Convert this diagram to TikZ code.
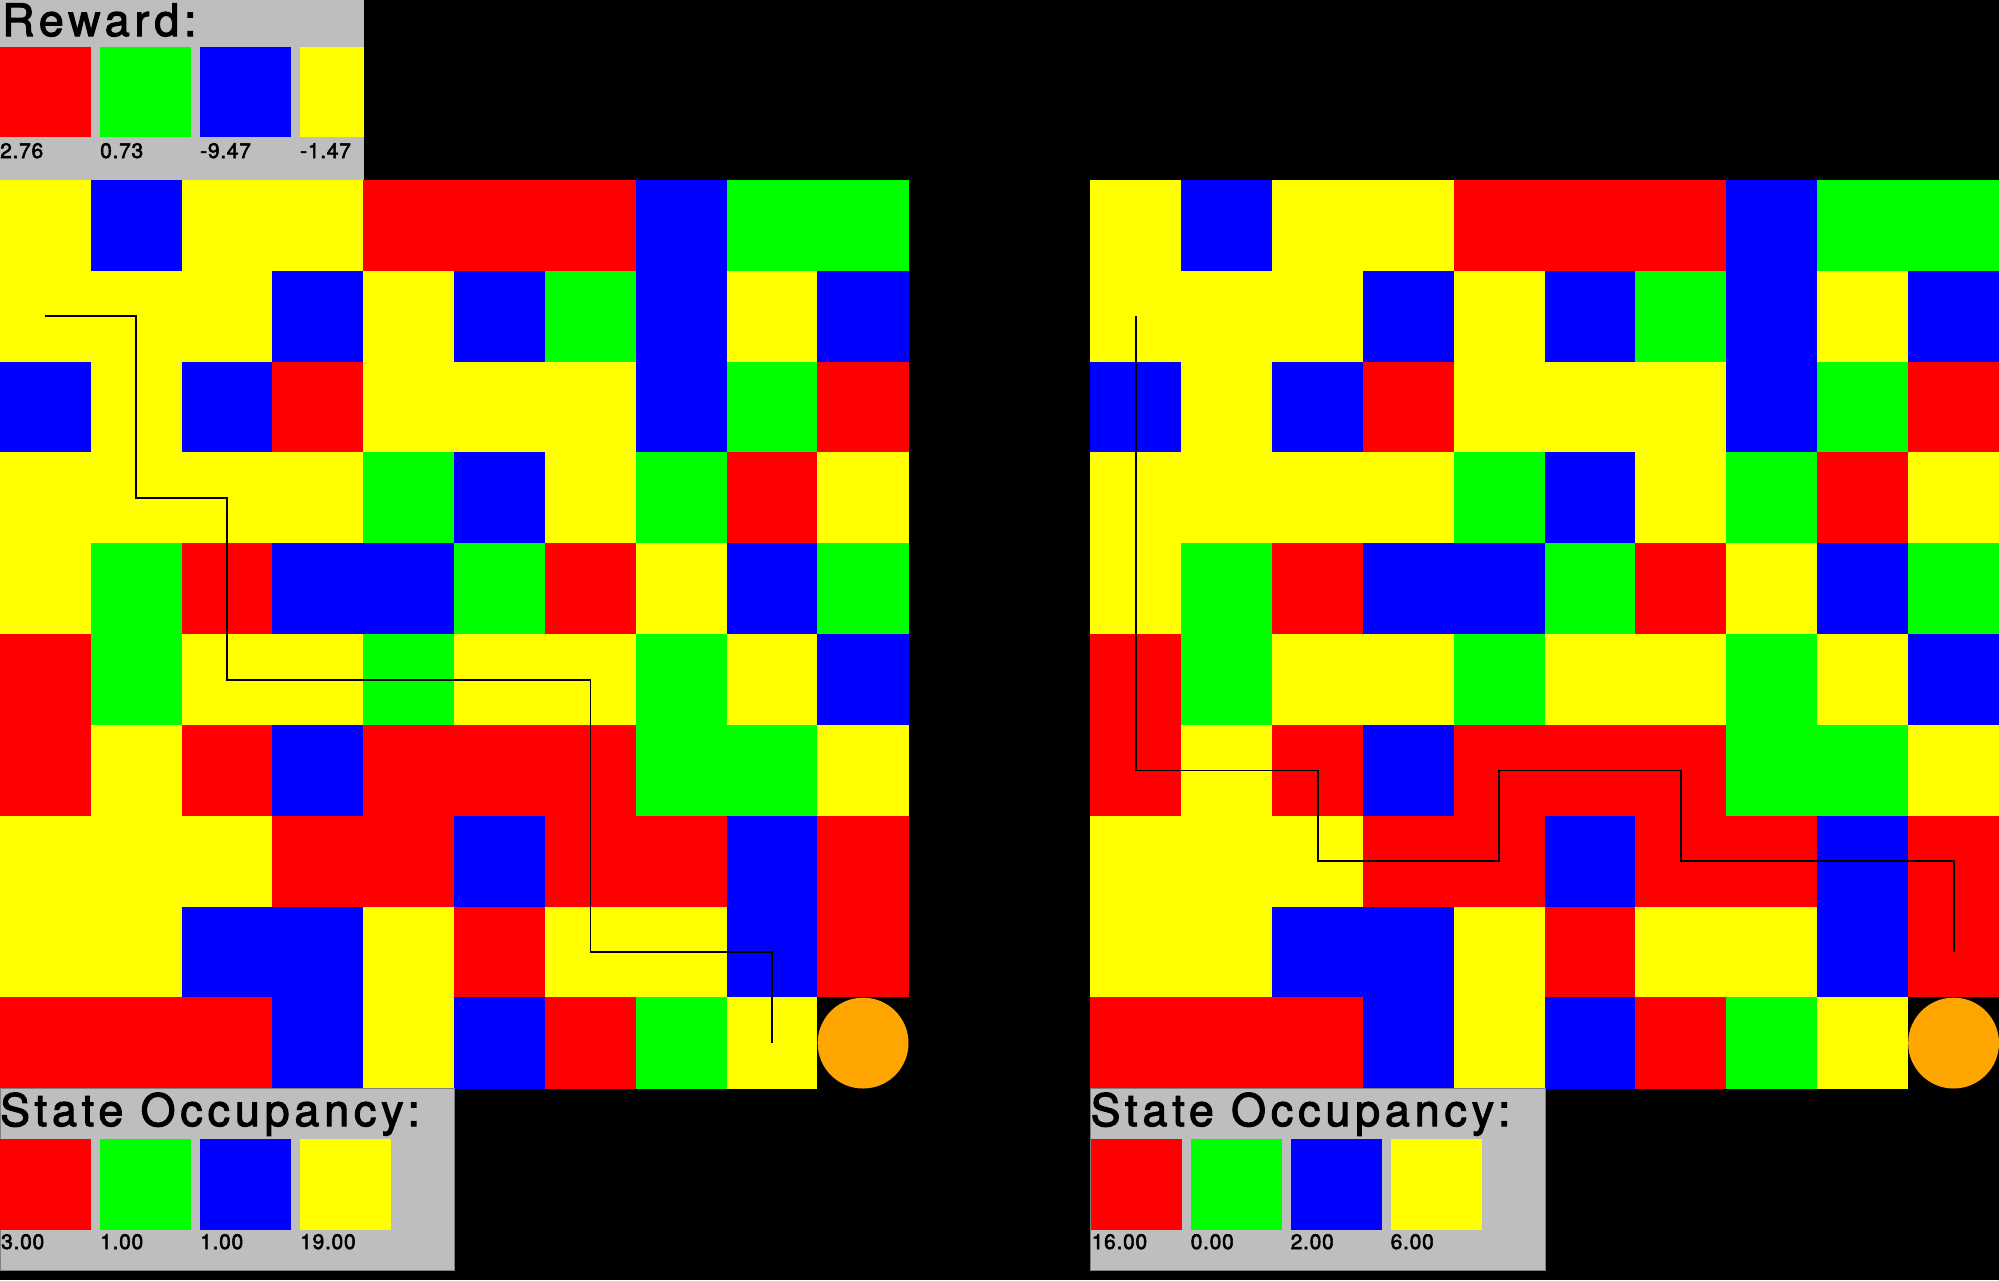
\documentclass[tikz,border=0pt]{standalone}
\usepackage{fontspec}
\setmainfont{TeX Gyre Heros}
\newfontfamily\headfont[LetterSpace=11,FakeBold=2.5]{TeX Gyre Heros}
\newfontfamily\labfont[LetterSpace=3.5,FakeBold=2.5]{TeX Gyre Heros}
\definecolor{cR}{RGB}{255,0,0}
\definecolor{cG}{RGB}{0,255,0}
\definecolor{cB}{RGB}{0,0,255}
\definecolor{cY}{RGB}{255,255,0}
\definecolor{cK}{RGB}{0,0,0}
\definecolor{panelgray}{RGB}{190,190,190}
\definecolor{paneledge}{RGB}{128,128,128}
\definecolor{goalorange}{RGB}{255,165,0}
\newcommand{\drawgridworld}{%
  \foreach \r/\row in {0/{Y,B,Y,Y,R,R,R,B,G,G},
                       1/{Y,Y,Y,B,Y,B,G,B,Y,B},
                       2/{B,Y,B,R,Y,Y,Y,B,G,R},
                       3/{Y,Y,Y,Y,G,B,Y,G,R,Y},
                       4/{Y,G,R,B,B,G,R,Y,B,G},
                       5/{R,G,Y,Y,G,Y,Y,G,Y,B},
                       6/{R,Y,R,B,R,R,R,G,G,Y},
                       7/{Y,Y,Y,R,R,B,R,R,B,R},
                       8/{Y,Y,B,B,Y,R,Y,Y,B,R},
                       9/{R,R,R,B,Y,B,R,G,Y,K}}{%
    \foreach \c [count=\i from 0] in \row {%
      \path[fill=c\c, draw=c\c, line width=0.4pt] (\i,\r) rectangle ++(1,1);
    }
  }%
  \fill[goalorange] (9.5,9.5) circle (0.5);
}
\tikzset{
  panel/.style={fill=panelgray, draw=paneledge, line width=1pt},
  headtxt/.style={anchor=base west, inner sep=0pt, font=\fontsize{44.7}{50}\headfont},
  valtxt/.style={anchor=base west, inner sep=0pt, font=\fontsize{21}{24}\labfont},
  traj/.style={draw=black, line width=1.8pt, line join=miter}
}
\begin{document}
\begin{tikzpicture}[x=1pt,y=-1pt]
\fill[black] (0,0) rectangle (1999,1280);
\useasboundingbox (0,0) rectangle (1999,1280);

% ---------- left grid ----------
\begin{scope}[shift={(0,180)}, x=90.85pt, y=-90.85pt]
  \drawgridworld
  \coordinate (L0) at (0.5,1.5);
  \coordinate (L1) at (1.5,1.5);
  \coordinate (L2) at (1.5,3.5);
  \coordinate (L3) at (2.5,3.5);
  \coordinate (L4) at (2.5,5.5);
  \coordinate (L5) at (6.5,5.5);
  \coordinate (L6) at (6.5,8.5);
  \coordinate (L7) at (8.5,8.5);
  \coordinate (L8) at (8.5,9.5);
  \draw[traj] (L0) -- (L1) -- (L2) -- (L3) -- (L4) -- (L5) -- (L6) -- (L7) -- (L8);
\end{scope}

% ---------- right grid ----------
\begin{scope}[shift={(1090.5,180)}, x=90.85pt, y=-90.85pt]
  \drawgridworld
  \coordinate (R0) at (0.5,1.5);
  \coordinate (R1) at (0.5,6.5);
  \coordinate (R2) at (2.5,6.5);
  \coordinate (R3) at (2.5,7.5);
  \coordinate (R4) at (4.5,7.5);
  \coordinate (R5) at (4.5,6.5);
  \coordinate (R6) at (6.5,6.5);
  \coordinate (R7) at (6.5,7.5);
  \coordinate (R8) at (9.5,7.5);
  \coordinate (R9) at (9.5,8.5);
  \draw[traj] (R0) -- (R1) -- (R2) -- (R3) -- (R4) -- (R5) -- (R6) -- (R7) -- (R8) -- (R9);
\end{scope}

% ---------- reward legend ----------
\fill[panelgray] (0,0) rectangle (364,180);
\node[headtxt] (rewt) at (2,36) {Reward:};
\fill[cR] (0,47) rectangle (91,137);
\fill[cG] (100,47) rectangle (191,137);
\fill[cB] (200,47) rectangle (291,137);
\fill[cY] (300,47) rectangle (364,137);
\node[valtxt] (rw1) at (0,158) {2.76};
\node[valtxt] (rw2) at (100,158) {0.73};
\node[valtxt] (rw3) at (200,158) {-9.47};
\node[valtxt] (rw4) at (300,158) {-1.47};

% ---------- occupancy legends ----------
\foreach \ox/\va/\vb/\vc/\vd/\nm in {0/3.00/1.00/1.00/19.00/A, 1090.5/16.00/0.00/2.00/6.00/B}{%
  \begin{scope}[shift={(\ox,0)}]
    \path[panel] (0,1088.5) rectangle (454.5,1270);
    \node[headtxt] (occt\nm) at (0,1126) {State Occupancy:};
    \fill[cR] (0,1139) rectangle (91,1230);
    \fill[cG] (100,1139) rectangle (191,1230);
    \fill[cB] (200,1139) rectangle (291,1230);
    \fill[cY] (300,1139) rectangle (391,1230);
    \node[valtxt] (oa\nm) at (1,1249) {\va};
    \node[valtxt] (ob\nm) at (100,1249) {\vb};
    \node[valtxt] (oc\nm) at (200,1249) {\vc};
    \node[valtxt] (od\nm) at (300,1249) {\vd};
  \end{scope}
}
\end{tikzpicture}
\end{document}
